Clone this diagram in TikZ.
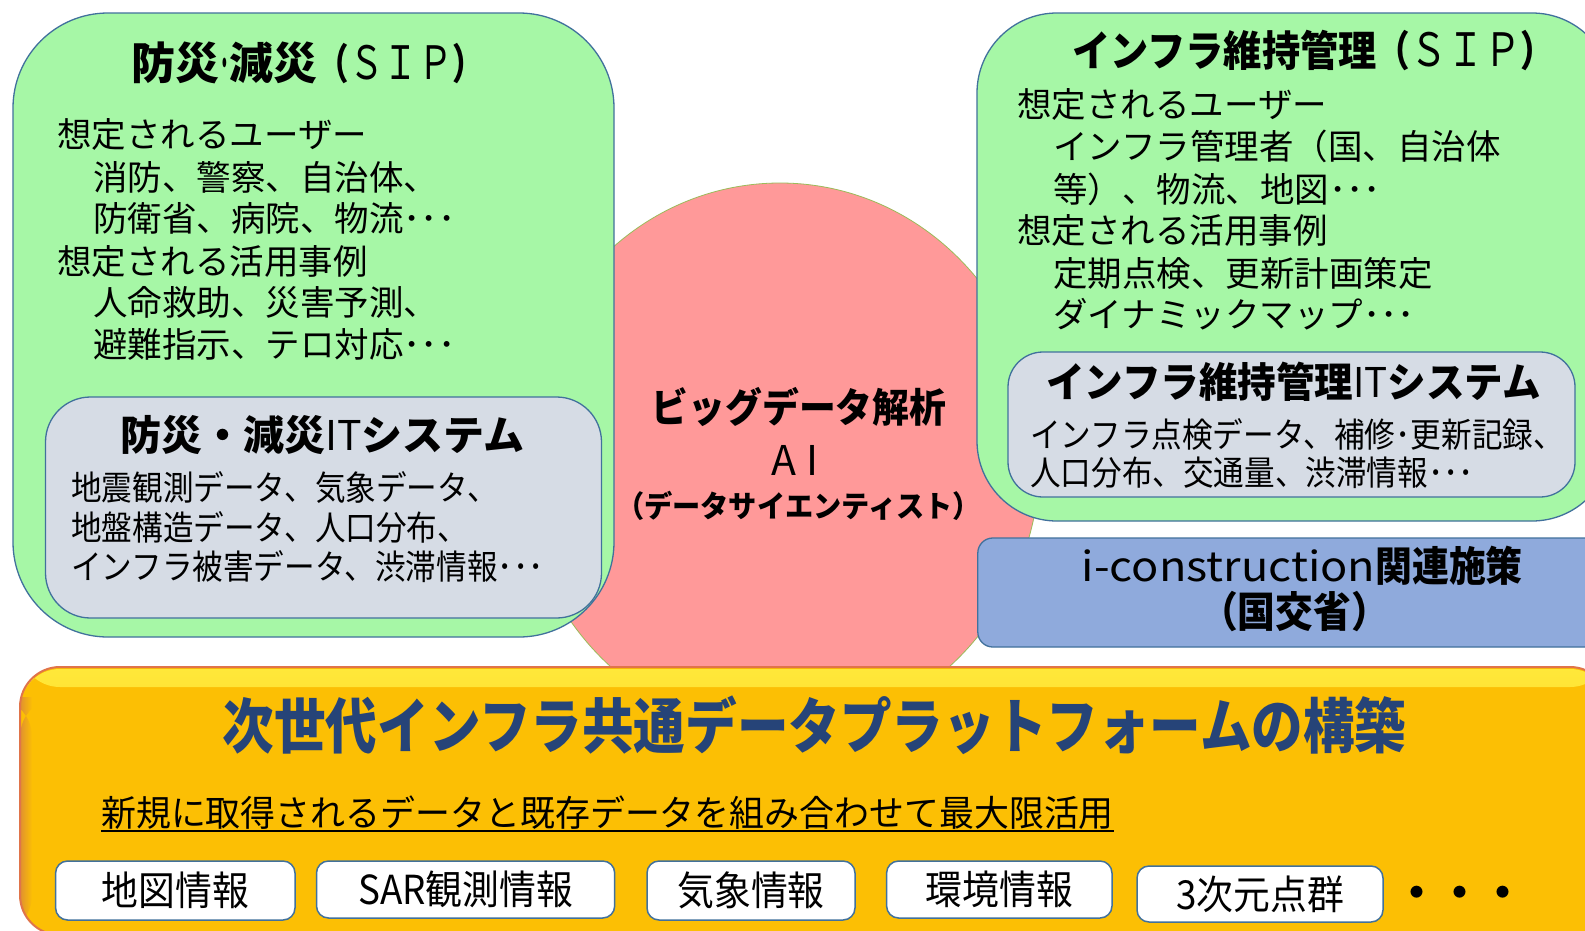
\documentclass[tikz,border=0pt]{standalone}
\usepackage{fontspec}
\usepackage{graphicx}
\usetikzlibrary{shapes.geometric}
\newfontfamily\jp{Noto Sans CJK JP}
\newcommand\fsz[1]{\fontsize{#1}{#1}\selectfont}
\newcommand\hsx[2]{\scalebox{#1}[1]{#2}}
\definecolor{gfill}{HTML}{A6F7A6}
\definecolor{sfill}{HTML}{D6DCE5}
\definecolor{bfill}{HTML}{8FAADC}
\definecolor{pfill}{HTML}{FF9999}
\definecolor{pedge}{HTML}{9BBB59}
\definecolor{bord}{HTML}{41719C}
\definecolor{yfill}{HTML}{FCBF04}
\definecolor{yhl}{HTML}{FFE83A}
\definecolor{yedge}{HTML}{E0744A}
\definecolor{yleft}{HTML}{E09030}
\definecolor{tblue}{HTML}{264478}
\tikzset{
  gbox/.style={draw=bord, fill=gfill, line width=1.3pt, inner sep=0pt},
  sbox/.style={draw=bord, fill=sfill, line width=1.3pt, inner sep=0pt},
  bluebox/.style={draw=bord, fill=bfill, line width=1.3pt, inner sep=0pt},
  wbox/.style={draw=bord, fill=white, line width=1.5pt, rounded corners=12pt, inner sep=0pt, font=\jp\fsz{40}},
  txt/.style={inner sep=0pt, anchor=base west, font=\jp},
  ctxt/.style={inner sep=0pt, anchor=base, font=\jp},
  body/.style={txt, font=\jp\fsz{34.5}},
  ibody/.style={txt, font=\jp\fsz{34}},
  ybox/.style={fill=yfill, draw=yedge, line width=2pt, rounded corners=40pt, inner sep=0pt,
    minimum width=1590pt, minimum height=268pt,
    path picture={
      \shade[top color=yhl, bottom color=yfill]
        ([yshift=-2pt]path picture bounding box.north west) rectangle ([yshift=-20pt]path picture bounding box.north east);
      \shade[left color=yleft, right color=yfill]
        ([yshift=-30pt]path picture bounding box.north west) rectangle ([xshift=12pt]path picture bounding box.south west);
    }}
}
\begin{document}
\begin{tikzpicture}[x=1pt,y=-1pt]
\useasboundingbox (0,0) rectangle (1585,930);
\clip (0,0) rectangle (1585,930);
\fill[white] (0,0) rectangle (1585,930);

% central ellipse
\node[ellipse, fill=pfill, draw=pedge, line width=0.8pt, minimum width=520pt, minimum height=550pt, inner sep=0pt] (bd) at (780,458) {};

% green boxes
\node[gbox, rounded corners=95pt, minimum width=601pt, minimum height=624pt] (lg) at (313.5,325) {};
\node[gbox, rounded corners=80pt, minimum width=635pt, minimum height=508pt] (rg) at (1294.5,267) {};
% gray inner boxes
\node[sbox, rounded corners=45pt, minimum width=556pt, minimum height=221pt] (ls) at (323.5,507.5) {};
\node[sbox, rounded corners=35pt, minimum width=567pt, minimum height=145pt] (rs) at (1291.5,424.5) {};
% blue box
\node[bluebox, rounded corners=15pt, minimum width=642pt, minimum height=109pt] (ic) at (1298.8,592.5) {};
% yellow platform
\node[ybox] (plat) at (815,801) {};

% left green texts
\node[txt] (lt) at (131,79) {\fsz{44}\bfseries 防災\hsx{0.4}{·}減災\hsx{0.75}{\fsz{42}（{\mdseries\fsz{46}ＳＩＰ}）}};
\node[body] (l1) at (57,147) {想定されるユーザー};
\node[body] (l2) at (93,190) {消防、警察、自治体、};
\node[body] (l3) at (93,231) {防衛省、病院、物流･･･};
\node[body] (l4) at (57,274) {想定される活用事例};
\node[body] (l5) at (93,315) {人命救助、災害予測、};
\node[body] (l6) at (93,357) {避難指示、テロ対応･･･};

% left inner texts
\node[txt] (lst) at (120,450) {\fsz{41}\bfseries\hsx{1.0}{防災・減災{\mdseries IT}システム}};
\node[ibody] (ls1) at (71,500) {\hsx{0.9}{地震観測データ、気象データ、}};
\node[ibody] (ls2) at (71,540.5) {\hsx{0.9}{地盤構造データ、人口分布、}};
\node[ibody] (ls3) at (71,579) {\hsx{0.9}{インフラ被害データ、渋滞情報･･･}};

% right green texts
\node[txt] (rt) at (1072,66) {\fsz{42}\bfseries\hsx{0.91}{インフラ維持管理}\hsx{0.8}{（{\mdseries\fsz{46}ＳＩＰ}）}};
\node[body] (r1) at (1017,117) {想定されるユーザー};
\node[body] (r2) at (1053,159.5) {インフラ管理者（国、自治体};
\node[body] (r3) at (1053,202) {等）、物流、地図･･･};
\node[body] (r4) at (1017,243.5) {想定される活用事例};
\node[body] (r5) at (1053,286) {定期点検、更新計画策定};
\node[body] (r6) at (1053,327) {ダイナミックマップ･･･};

% right inner texts
\node[txt] (rst) at (1046,397) {\fsz{41}\bfseries\hsx{0.94}{インフラ維持管理{\mdseries IT}システム}};
\node[ibody] (rs1) at (1030,447.5) {\hsx{0.9}{インフラ点検データ、補修･更新記録、}};
\node[ibody] (rs2) at (1030,485.5) {\hsx{0.9}{人口分布、交通量、渋滞情報･･･}};

% ellipse texts
\node[ctxt] (bd1) at (799,422) {\fsz{40}\bfseries\hsx{0.92}{ビッグデータ解析}};
\node[ctxt] (bd2) at (795,475) {\fsz{41}A I};
\node[ctxt] (bd3) at (798.5,517) {\fsz{30}\bfseries\hsx{0.94}{（データサイエンティスト）}};

% blue box texts
\node[txt] (ic1) at (1081.5,581) {\fsz{41}\hsx{1.1}{i-construction}\bfseries\hsx{0.9}{関連施策}};
\node[ctxt] (ic2) at (1294.5,627) {\fsz{42}\bfseries\hsx{0.9}{（国交省）}};

% platform texts
\node[ctxt, text=tblue] (pt) at (814.5,748.5) {\fsz{60}\bfseries\hsx{0.86}{次世代インフラ共通データプラットフォームの構築}};
\node[txt] (ul) at (101,826) {\fsz{36}\hsx{0.97}{新規に取得されるデータと既存データを組み合わせて最大限活用}};
\draw[line width=2.5pt] ([yshift=-5pt]ul.base west) -- ([yshift=-5pt]ul.base east);

% data boxes
\node[wbox, minimum width=239.4pt, minimum height=59pt] (d1) at (175.3,890.5) {\hsx{0.92}{地図情報}};
\node[wbox, minimum width=298.2pt, minimum height=57pt] (d2) at (465.6,889.5) {\hsx{0.92}{SAR観測情報}};
\node[wbox, minimum width=208pt, minimum height=59pt] (d3) at (751,890.5) {\hsx{0.92}{気象情報}};
\node[wbox, minimum width=225.4pt, minimum height=57pt] (d4) at (999.3,889.5) {\hsx{0.92}{環境情報}};
\node[wbox, minimum width=246pt, minimum height=56pt] (d5) at (1260,894) {\hsx{0.92}{3次元点群}};
\node[ctxt] (dots) at (1460,908) {\fsz{43}\bfseries ・・・};
\end{tikzpicture}
\end{document}
